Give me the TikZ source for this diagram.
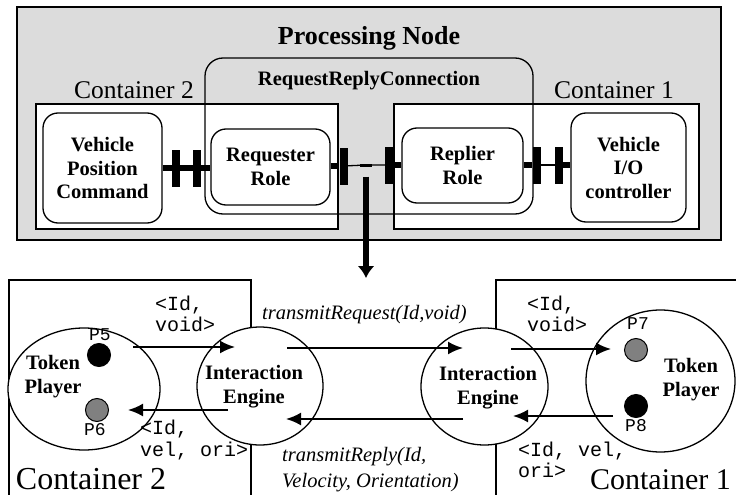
\documentclass[tikz,border=0pt]{standalone}
\usepackage{fontspec}
\setmainfont{Liberation Serif}
\setmonofont{Liberation Mono}
\usetikzlibrary{shapes.geometric,arrows.meta}
\definecolor{nodegray}{RGB}{220,220,220}
\definecolor{tokengray}{RGB}{128,128,128}

\begin{document}
\begin{tikzpicture}[x=1pt,y=-1pt,
		every node/.style={inner sep=0pt},
		frame/.style={draw,line width=1.3pt},
		rolebox/.style={draw,fill=white,line width=1.3pt,rounded corners=15pt,align=center,font=\fontsize{20.5}{23.5}\selectfont\bfseries},
		portbar/.style={fill=black,minimum width=8pt,minimum height=37pt},
		stub/.style={line width=6pt},
		wire/.style={line width=1.3pt},
		place/.style={draw,fill=white,ellipse,line width=1.3pt},
		token/.style={draw,circle,line width=1pt,minimum size=23pt},
		flow/.style={line width=2pt,-{Latex[length=15pt,width=13pt]}},
		engine/.style={align=center,font=\fontsize{20.5}{24}\selectfont\bfseries},
		msg/.style={anchor=west,align=left,font=\fontsize{20}{21.5}\selectfont\ttfamily},
		call/.style={align=left,font=\fontsize{20.5}{26}\selectfont\itshape},
		tag/.style={font=\fontsize{18}{18}\selectfont\ttfamily}]
	\useasboundingbox (0,0) rectangle (736,495);

	\draw[frame,fill=nodegray,line width=1.6pt] (17,7) rectangle (721,240);
	\node[anchor=base,font=\fontsize{26}{30}\selectfont\bfseries] (title) at (369,45) {Processing Node};
	\draw[frame,fill=white] (36,104) rectangle (338,229);
	\draw[frame,fill=white] (394,104) rectangle (699,229);
	\node[anchor=base,font=\fontsize{25.5}{30}\selectfont] (c2top) at (134,99) {Container 2};
	\node[anchor=base,font=\fontsize{25.5}{30}\selectfont] (c1top) at (614,99) {Container 1};
	\draw[frame,rounded corners=18pt] (205,58) rectangle (533,214);
	\node[anchor=base,font=\fontsize{20.5}{24}\selectfont\bfseries] (conn) at (369,85) {RequestReplyConnection};

	\node[rolebox,minimum width=119pt,minimum height=110pt] (vpc) at (102.5,168) {Vehicle\\Position\\Command};
	\node[rolebox,minimum width=119pt,minimum height=76pt] (req) at (270.5,167) {Requester\\Role};
	\node[rolebox,minimum width=121pt,minimum height=75pt] (rep) at (462.5,165.5) {Replier\\Role};
	\node[rolebox,minimum width=115pt,minimum height=109pt] (vio) at (628.5,167.5) {Vehicle\\I/O\\controller};

	\node[portbar] (b1) at (176,168) {};
	\node[portbar] (b2) at (197,168) {};
	\node[portbar] (b3) at (343.5,166) {};
	\node[portbar] (b4) at (389,165) {};
	\node[portbar] (b5) at (536.5,165) {};
	\node[portbar] (b6) at (559,165) {};
	\node[fill=black,minimum width=12pt,minimum height=3pt] (tap) at (366,165) {};
	\draw[stub] (vpc.east |- b1) -- (req.west |- b1);
	\draw[stub] (req.east |- b3) -- (b3);
	\draw[wire] (b3) -- (tap) -- (b4);
	\draw[stub] (b4) -- (rep.west |- b4);
	\draw[stub] (rep.east |- b5) -- (b5);
	\draw[wire] (b5) -- (b6);
	\draw[stub] (b6) -- (vio.west |- b6);
	\coordinate (drop) at (366,278);
	\draw[line width=5.5pt,-{Latex[length=12pt,width=17pt]}] ([yshift=-10pt]tap.south) -- (drop);

	\draw[frame] (9,495) -- (9,280) -- (251,280) -- (251,495);
	\draw[frame] (496,495) -- (496,280) -- (737,280);
	\node[anchor=base,font=\fontsize{32}{36}\selectfont] (c2bot) at (91,489) {Container 2};
	\node[anchor=base,font=\fontsize{30}{36}\selectfont] (c1bot) at (660.5,489) {Container 1};

	\node[place,minimum width=152pt,minimum height=122pt] (tp2) at (84,389) {};
	\node[place,minimum width=126pt,minimum height=118pt] (ie2) at (260,386) {};
	\node[place,minimum width=127pt,minimum height=117pt] (ie1) at (484.5,386.5) {};
	\node[place,minimum width=149pt,minimum height=142pt] (tp1) at (660.5,381) {};
	\node[engine] (tp2txt) at (53,377) {Token\\Player};
	\node[engine] (ie2txt) at (254,387) {Interaction\\Engine};
	\node[engine] (ie1txt) at (488,388) {Interaction\\Engine};
	\node[engine] (tp1txt) at (691,380) {Token\\Player};

	\node[tag] (p5lbl) at (100,335) {P5};
	\node[tag] (p6lbl) at (95,430) {P6};
	\node[tag] (p7lbl) at (638,324) {P7};
	\node[tag] (p8lbl) at (636,426) {P8};
	\node[token,fill=black] (p5) at (99,355) {};
	\node[token,fill=tokengray] (p6) at (97,410) {};
	\node[token,fill=tokengray] (p7) at (636,350) {};
	\node[token,fill=black] (p8) at (636,406) {};

	\coordinate (p5out) at (133,347);
	\coordinate (ie2in) at (235,347);
	\coordinate (ie2out) at (287,348);
	\coordinate (ie1in) at (463,348);
	\coordinate (ie1out) at (511,349);
	\coordinate (p7in) at (611,349);
	\coordinate (p8out) at (613,416);
	\coordinate (ie1back) at (513,416);
	\coordinate (ie1ret) at (463,419);
	\coordinate (ie2back) at (286,419);
	\coordinate (ie2ret) at (228,410);
	\coordinate (p6in) at (128,410);
	\draw[flow] (p5out) -- (ie2in);
	\draw[flow] (ie2out) -- (ie1in);
	\draw[flow] (ie1out) -- (p7in);
	\draw[flow] (p8out) -- (ie1back);
	\draw[flow] (ie1ret) -- (ie2back);
	\draw[flow] (ie2ret) -- (p6in);

	\node[msg] (m1) at (155,314) {<Id,\\void>};
	\node[msg] (m2) at (140,440) {<Id,\\vel, ori>};
	\node[msg] (m3) at (527,314) {<Id,\\void>};
	\node[msg] (m4) at (518,460) {<Id, vel,\\ori>};
	\node[call,anchor=base west] (reqcall) at (262,319) {transmitRequest(Id,void)};
	\node[call,anchor=west] (repcall) at (282,470) {transmitReply(Id,\\Velocity, Orientation)};
\end{tikzpicture}
\end{document}
